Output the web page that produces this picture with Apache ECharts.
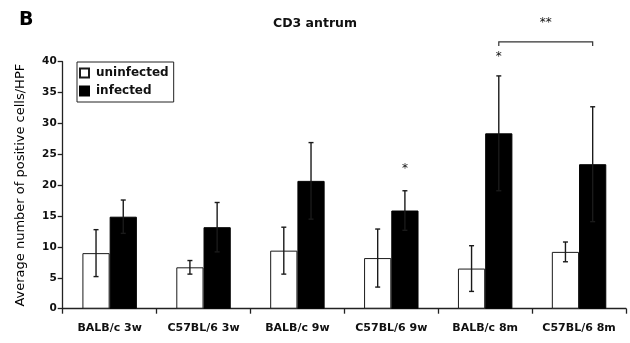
<!DOCTYPE html>
<html>
<head>
<meta charset="utf-8">
<script src="https://cdn.jsdelivr.net/npm/echarts@6/dist/echarts.min.js"></script>
<style>
html, body { margin: 0; padding: 0; background: #fff; }
#main { width: 630px; height: 343px; }
</style>
</head>
<body>
<div id="main"></div>
<script>
// data
var groups = ['BALB/c 3w', 'C57BL/6 3w', 'BALB/c 9w', 'C57BL/6 9w', 'BALB/c 8m', 'C57BL/6 8m'];
var uninfected = [9.0, 6.7, 9.4, 8.2, 6.5, 9.2];
var uninfectedErr = [3.8, 1.1, 3.8, 4.7, 3.7, 1.6];
var infected = [14.9, 13.2, 20.7, 15.9, 28.4, 23.4];
var infectedErr = [2.7, 4.0, 6.2, 3.2, 9.3, 9.3];
var yTicks = [0, 5, 10, 15, 20, 25, 30, 35, 40];

// significance marks: [category, value]
var singleStars = [[3, 22.6], [4, 40.8]];
// bracket: [from category, to category, value, label value]
var bracket = [[4, 5, 43.2, 46.3]];

var FONT = 'DejaVu Sans';
var BAR_FRAC = 0.29;

function errorSeries(name, means, errs, side) {
	return {
		name : name + ' err',
		type : 'custom',
		z : 5,
		renderItem : function(params, api) {
			var band = api.size([1, 0])[0];
			var dx = side * band * BAR_FRAC / 2;
			var hi = api.coord([api.value(0), api.value(2)]);
			var lo = api.coord([api.value(0), api.value(1)]);
			var x = hi[0] + dx;
			var st = { stroke : '#1a1a1a', lineWidth : 1.4 };
			return {
				type : 'group',
				children : [
					{ type : 'line', shape : { x1 : x, y1 : hi[1], x2 : x, y2 : lo[1] }, style : st },
					{ type : 'line', shape : { x1 : x - 2.5, y1 : hi[1], x2 : x + 2.5, y2 : hi[1] }, style : st },
					{ type : 'line', shape : { x1 : x - 2.5, y1 : lo[1], x2 : x + 2.5, y2 : lo[1] }, style : st }
				]
			};
		},
		encode : { x : 0, y : [1, 2] },
		data : means.map(function(m, i) { return [i, m - errs[i], m + errs[i]]; })
	};
}

var chart = echarts.init(document.getElementById('main'));
var option = {
	animation : false,
	title : [ {
		text : 'B',
		left : 14,
		top : 6,
		textStyle : { fontFamily : FONT, fontSize : 19, fontWeight : 'bold', color : '#000' }
	}, {
		text : 'CD3 antrum',
		left : 'center',
		top : 12,
		textStyle : { fontFamily : FONT, fontSize : 12.5, fontWeight : 'bold', color : '#111' }
	} ],
	legend : {
		data : [ 'uninfected', 'infected' ],
		orient : 'vertical',
		left : 77,
		top : 62,
		padding : [ 5, 5, 5, 2 ],
		itemGap : 6,
		itemWidth : 9,
		itemHeight : 9,
		borderColor : '#222',
		borderWidth : 1,
		borderRadius : 0,
		icon : 'rect',
		textStyle : { fontFamily : FONT, fontSize : 12, fontWeight : 'bold', color : '#111', padding : [ 0, 0, 0, 2 ] }
	},
	grid : {
		left : 62.7,
		right : 4,
		top : 61.7,
		bottom : 34.3
	},
	xAxis : {
		type : 'category',
		data : groups,
		axisLine : { lineStyle : { color : '#222', width : 1.3 } },
		axisTick : { show : true, interval : 0, length : 5, lineStyle : { color : '#222', width : 1.3 } },
		axisLabel : { interval : 0, fontFamily : FONT, fontSize : 11, fontWeight : 'bold', color : '#111', margin : 14 }
	},
	yAxis : {
		type : 'value',
		min : yTicks[0],
		max : yTicks[yTicks.length - 1],
		interval : 5,
		name : 'Average number of positive cells/HPF',
		nameLocation : 'middle',
		nameGap : 36,
		nameTextStyle : { fontFamily : FONT, fontSize : 13, color : '#000' },
		axisLine : { show : true, lineStyle : { color : '#222', width : 1.3 } },
		axisTick : { show : true, length : 5, lineStyle : { color : '#222', width : 1.3 } },
		axisLabel : { fontFamily : FONT, fontSize : 10.5, fontWeight : 'bold', color : '#111', margin : 6 },
		splitLine : { show : false }
	},
	series : [ {
		name : 'uninfected',
		type : 'bar',
		barWidth : (BAR_FRAC * 100) + '%',
		barGap : '0%',
		itemStyle : { color : '#fff', borderColor : '#1a1a1a', borderWidth : 1 },
		data : uninfected
	}, {
		name : 'infected',
		type : 'bar',
		barWidth : (BAR_FRAC * 100) + '%',
		barGap : '0%',
		itemStyle : { color : '#000', borderColor : '#000', borderWidth : 1 },
		data : infected
	},
	errorSeries('uninfected', uninfected, uninfectedErr, -1),
	errorSeries('infected', infected, infectedErr, 1),
	{
		name : 'stars',
		type : 'custom',
		z : 6,
		renderItem : function(params, api) {
			var band = api.size([1, 0])[0];
			var p = api.coord([api.value(0), api.value(1)]);
			return {
				type : 'text',
				style : {
					x : p[0] + band * BAR_FRAC / 2, y : p[1], text : '*',
					fontFamily : FONT, fontSize : 12, fill : '#111',
					align : 'center', verticalAlign : 'middle'
				}
			};
		},
		encode : { x : 0, y : 1 },
		data : singleStars
	}, {
		name : 'bracket',
		type : 'custom',
		z : 6,
		renderItem : function(params, api) {
			var band = api.size([1, 0])[0];
			var dx = band * BAR_FRAC / 2;
			var a = api.coord([api.value(0), api.value(2)]);
			var b = api.coord([api.value(1), api.value(2)]);
			var t = api.coord([api.value(0), api.value(3)]);
			var x1 = a[0] + dx, x2 = b[0] + dx, y = a[1];
			var st = { stroke : '#333', lineWidth : 1.2, fill : null };
			return {
				type : 'group',
				children : [ {
					type : 'polyline',
					shape : { points : [ [ x1, y + 4 ], [ x1, y ], [ x2, y ], [ x2, y + 4 ] ] },
					style : st
				}, {
					type : 'text',
					style : {
						x : (x1 + x2) / 2, y : t[1], text : '**',
						fontFamily : FONT, fontSize : 12, fill : '#111',
						align : 'center', verticalAlign : 'middle'
					}
				} ]
			};
		},
		encode : { x : [ 0, 1 ], y : 2 },
		data : bracket
	} ]
};
chart.setOption(option);
</script>
</body>
</html>
